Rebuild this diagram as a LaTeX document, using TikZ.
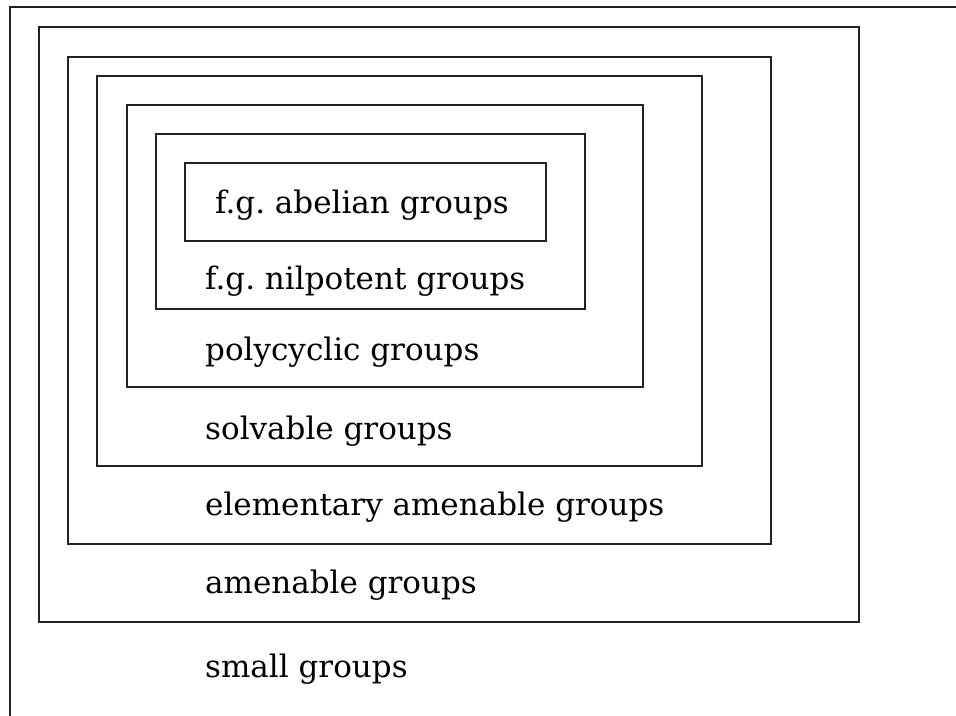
\documentclass[tikz,border=0pt]{standalone}
\usepackage{fontspec}
\setmainfont{DejaVu Serif}
\usepackage{tikz}
\usetikzlibrary{positioning}
\definecolor{setLine}{HTML}{222222}
\tikzset{
  setBox/.style={draw=setLine, line width=1.2pt},
  setLabel/.style={anchor=base west, inner sep=0pt, font=\fontsize{31}{36}\selectfont}
}

\begin{document}
\frenchspacing
\begin{tikzpicture}[x=1pt, y=-1pt]
  \useasboundingbox (0,0) rectangle (956,715);
  % nested classes, outermost first
  \draw[setBox] (10,730) -- (10,7) -- (970,7);
  \draw[setBox] (39,27) rectangle (859,622);
  \draw[setBox] (68,57) rectangle (771,544);
  \draw[setBox] (97,76) rectangle (702,466);
  \draw[setBox] (127,105) rectangle (643,387);
  \draw[setBox] (156,134) rectangle (585,309);
  \draw[setBox] (185,163) rectangle (546,241);

  \node[setLabel] (abelian) at (215,213) {f.g. abelian groups};
  \node[setLabel] (nilpotent) at (205,289) {f.g. nilpotent groups};
  \node[setLabel] (polycyclic) at (205,360) {polycyclic groups};
  \node[setLabel] (solvable) at (205,439) {solvable groups};
  \node[setLabel] (elementary) at (205,515) {elementary amenable groups};
  \node[setLabel] (amenable) at (205,593) {amenable groups};
  \node[setLabel] (small) at (205,677) {small groups};
\end{tikzpicture}
\end{document}
